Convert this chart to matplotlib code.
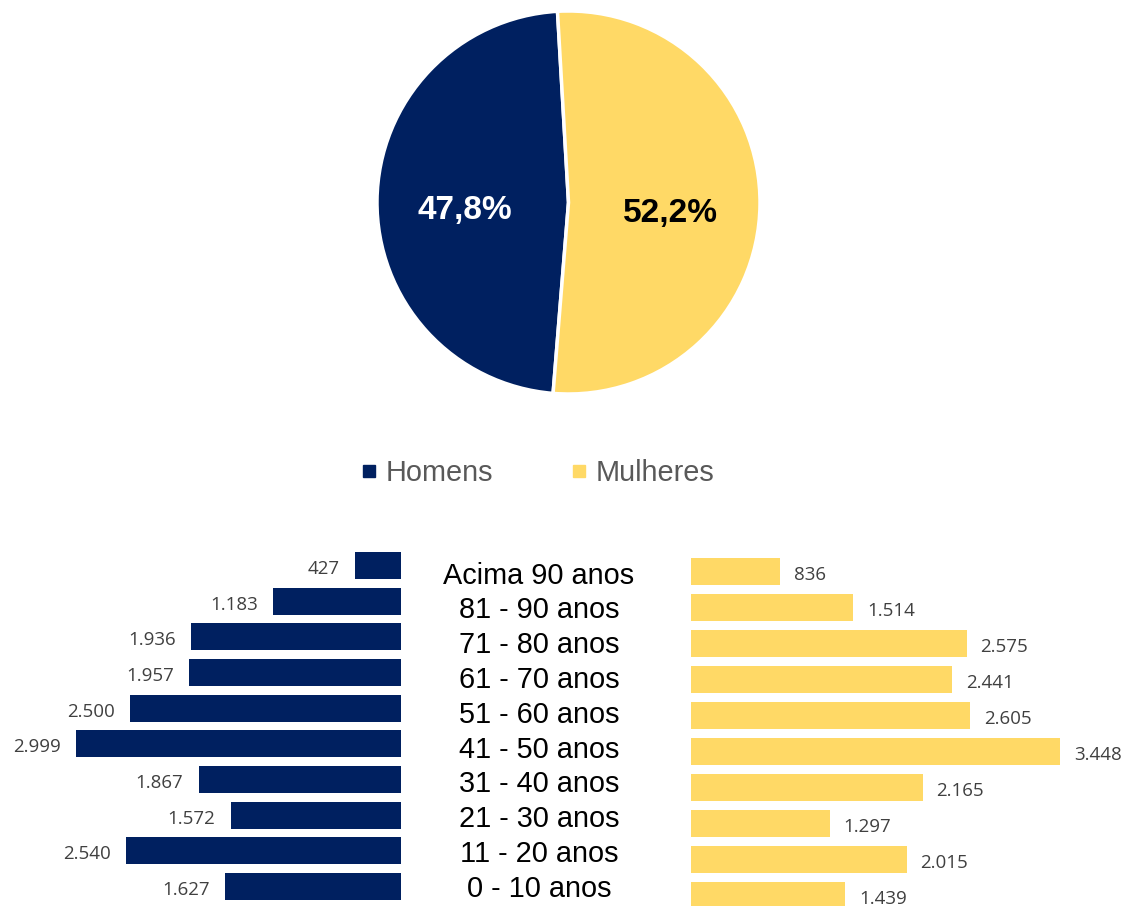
import numpy as np
import matplotlib.pyplot as plt
from matplotlib.lines import Line2D

# data
genders = ["Homens", "Mulheres"]
shares = [47.8, 52.2]
pct_labels = ["47,8%", "52,2%"]
age_groups = ["Acima 90 anos", "81 - 90 anos", "71 - 80 anos", "61 - 70 anos", "51 - 60 anos",
              "41 - 50 anos", "31 - 40 anos", "21 - 30 anos", "11 - 20 anos", "0 - 10 anos"]
homens = [427, 1183, 1936, 1957, 2500, 2999, 1867, 1572, 2540, 1627]
mulheres = [836, 1514, 2575, 2441, 2605, 3448, 2165, 1297, 2015, 1439]

navy = "#002060"
gold = "#FFD966"
W, H = 1125, 906


def fmt(v):
    return "{:,}".format(v).replace(",", ".")


def px_axes(left, top, width, height):
    return fig.add_axes([left / W, (H - top - height) / H, width / W, height / H])


fig = plt.figure(figsize=(W / 100, H / 100), dpi=100)
fig.patch.set_facecolor("white")

# pie
ax_pie = px_axes(377, 11, 383, 383)
wedges, _ = ax_pie.pie(shares, colors=[navy, gold], startangle=93.3, counterclock=True,
                       wedgeprops=dict(edgecolor="white", linewidth=2.5))
for w, lab, col, dist in zip(wedges, pct_labels, ["white", "black"], [0.54, 0.53]):
    ang = np.deg2rad((w.theta1 + w.theta2) / 2)
    ax_pie.text(dist * np.cos(ang), dist * np.sin(ang) - 0.05, lab, ha="center", va="center",
                fontsize=24, fontweight="bold", color=col, family="Liberation Sans")
ax_pie.set_xlim(-1.0, 1.0)
ax_pie.set_ylim(-1.0, 1.0)
ax_pie.set_aspect("equal")
ax_pie.axis("off")

# legend
handles = [Line2D([], [], marker="s", linestyle="none", markersize=8, color=c) for c in [navy, gold]]
leg = fig.legend(handles, genders, loc="center", bbox_to_anchor=(536 / W, 1 - 473 / H), ncol=2,
                 frameon=False, handletextpad=0.15, columnspacing=2.6, handlelength=0.8,
                 prop={"family": "Liberation Sans", "size": 20.8})
for t in leg.get_texts():
    t.set_color("#595959")

val_font = {"family": "Open Sans", "size": 13.5, "color": "#404040"}

# left bars (Homens)
pitch_l = 35.67
ax_l = px_axes(0, 565.5 - pitch_l / 2, 401, pitch_l * 10)
yl = list(range(len(age_groups)))
ax_l.barh(yl, homens, height=0.757, color=navy)
for y, v in zip(yl, homens):
    ax_l.text(v + 140, y + 0.1, fmt(v), ha="right", va="center", **val_font)
ax_l.set_xlim(401 / 0.1084, 0)
ax_l.set_ylim(len(age_groups) - 0.5, -0.5)
ax_l.axis("off")

# right bars (Mulheres)
pitch_r = 36.0
ax_r = px_axes(691, 571.5 - pitch_r / 2, 434, pitch_r * 10)
ax_r.barh(yl, mulheres, height=0.75, color=gold)
for y, v in zip(yl, mulheres):
    ax_r.text(v + 130, y + 0.1, fmt(v), ha="left", va="center", **val_font)
ax_r.set_xlim(0, 434 / 0.107)
ax_r.set_ylim(len(age_groups) - 0.5, -0.5)
ax_r.axis("off")

# center labels
pitch_c = 34.8
ax_c = px_axes(391, 575.5 - pitch_c / 2, 296, pitch_c * 10)
for y, lab in zip(yl, age_groups):
    ax_c.text(0.5, y, lab, ha="center", va="center", fontsize=20.8, color="black",
              family="Liberation Sans")
ax_c.set_xlim(0, 1)
ax_c.set_ylim(len(age_groups) - 0.5, -0.5)
ax_c.axis("off")

fig.savefig("out.png", dpi=100)
